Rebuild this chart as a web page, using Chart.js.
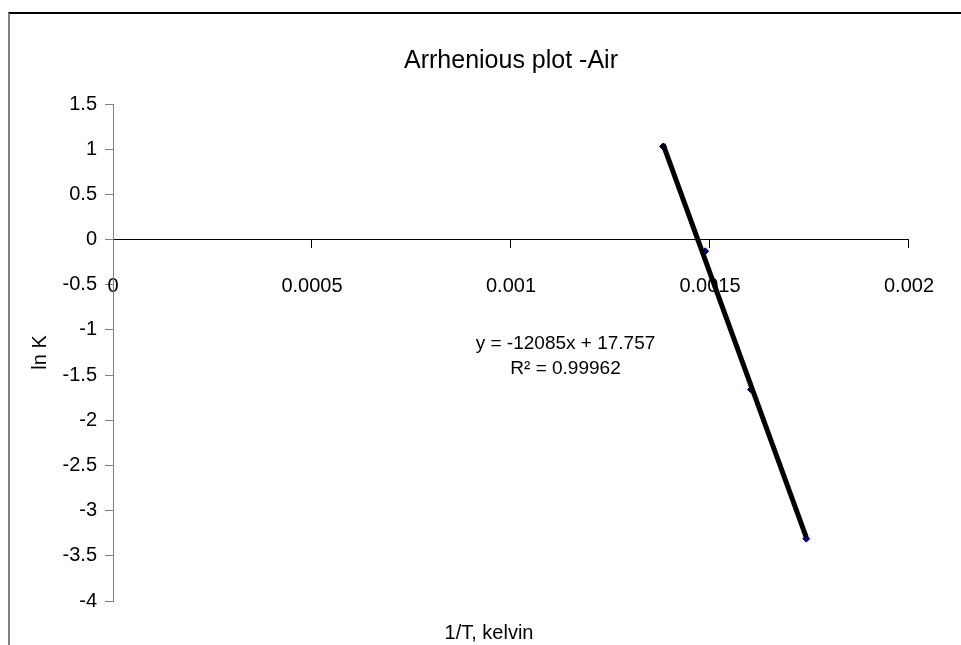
<!DOCTYPE html>
<html>
<head>
<meta charset="utf-8">
<script src="https://cdn.jsdelivr.net/npm/chart.js@4.4.1/dist/chart.umd.min.js"></script>
<style>
  html, body { margin: 0; padding: 0; background: #fff; overflow: hidden; }
  #wrap { position: relative; width: 961px; height: 645px; }
  #frame { position: absolute; left: 8px; top: 12px; width: 960px; height: 640px;
           border-left: 2px solid #808080; border-top: 2px solid #000; pointer-events: none; }
</style>
</head>
<body>
<div id="wrap">
  <canvas id="chart" width="961" height="645"></canvas>
  <div id="frame"></div>
</div>
<script>
// データ
const invT = [0.001382, 0.001488, 0.001603, 0.001742];
const lnK = [1.03, -0.13, -1.66, -3.31];

// 近似直線 (Excel の線形トレンドライン)
const trendSlope = -12085;
const trendIntercept = 17.757;
const eqLines = ['y = -12085x + 17.757', 'R² = 0.99962'];

const xTicks = [0, 0.0005, 0.001, 0.0015, 0.002];
const yTicks = [1.5, 1, 0.5, 0, -0.5, -1, -1.5, -2, -2.5, -3, -3.5, -4];
const xTitle = '1/T, kelvin';

const FONT = "'Liberation Sans', Arial, sans-serif";

const points = invT.map((x, i) => ({ x: x, y: lnK[i] }));
const xMin = Math.min(...invT);
const xMax = Math.max(...invT);
const trend = [xMin, xMax].map(x => ({ x: x, y: trendSlope * x + trendIntercept }));

// 数式ラベルと X 軸タイトルを描く
const textPlugin = {
    id: 'extraText',
    afterDatasetsDraw(chart) {
        const { ctx, scales, chartArea } = chart;
        const px = scales.x.getPixelForValue(0.001137);
        const py = scales.y.getPixelForValue(-1.15);
        ctx.save();
        ctx.fillStyle = '#000';
        ctx.textAlign = 'center';
        ctx.textBaseline = 'middle';
        ctx.font = '19px ' + FONT;
        eqLines.forEach((t, i) => ctx.fillText(t, px, py + i * 25));
        ctx.font = '20px ' + FONT;
        ctx.fillText(xTitle, (chartArea.left + chartArea.right) / 2 - 22, chartArea.bottom + 32);
        ctx.restore();
    }
};

new Chart(document.getElementById('chart'), {
    type: 'scatter',
    data: {
        datasets: [{
            label: 'trend',
            data: trend,
            showLine: true,
            borderColor: '#000',
            borderWidth: 5,
            pointRadius: 0,
            order: 1
        }, {
            label: 'ln K',
            data: points,
            pointStyle: 'rectRot',
            pointRadius: 3.5,
            backgroundColor: '#000080',
            borderColor: '#000080',
            order: 2
        }]
    },
    options: {
        responsive: false,
        animation: false,
        devicePixelRatio: 1,
        layout: { padding: { left: 8, right: 52, top: 0, bottom: 44 } },
        plugins: {
            legend: { display: false },
            tooltip: { enabled: false },
            title: {
                display: true,
                fullSize: false,
                text: 'Arrhenious plot -Air',
                color: '#000',
                font: { family: FONT, size: 25, weight: 'normal' },
                padding: { top: 46, bottom: 28 }
            }
        },
        scales: {
            x: {
                type: 'linear',
                position: { y: 0 },
                min: 0,
                max: 0.002,
                afterBuildTicks: s => { s.ticks = xTicks.map(v => ({ value: v })); },
                ticks: {
                    color: '#000',
                    font: { family: FONT, size: 20 },
                    padding: 27,
                    maxRotation: 0,
                    callback: v => String(v)
                },
                grid: { drawOnChartArea: false, color: '#000', tickLength: 8 },
                border: { color: '#000', width: 1 }
            },
            y: {
                type: 'linear',
                min: -4,
                max: 1.5,
                afterBuildTicks: s => { s.ticks = yTicks.map(v => ({ value: v })); },
                ticks: {
                    color: '#000',
                    font: { family: FONT, size: 20 },
                    padding: 8,
                    callback: v => String(v)
                },
                grid: { drawOnChartArea: false, color: '#808080', tickLength: 8 },
                border: { color: '#808080', width: 1 },
                title: {
                    display: true,
                    text: 'ln K',
                    color: '#000',
                    font: { family: FONT, size: 20 },
                    padding: { top: 20, bottom: 0 }
                },
                afterFit: s => { s.width = 105; }
            }
        }
    },
    plugins: [textPlugin]
});
</script>
</body>
</html>
